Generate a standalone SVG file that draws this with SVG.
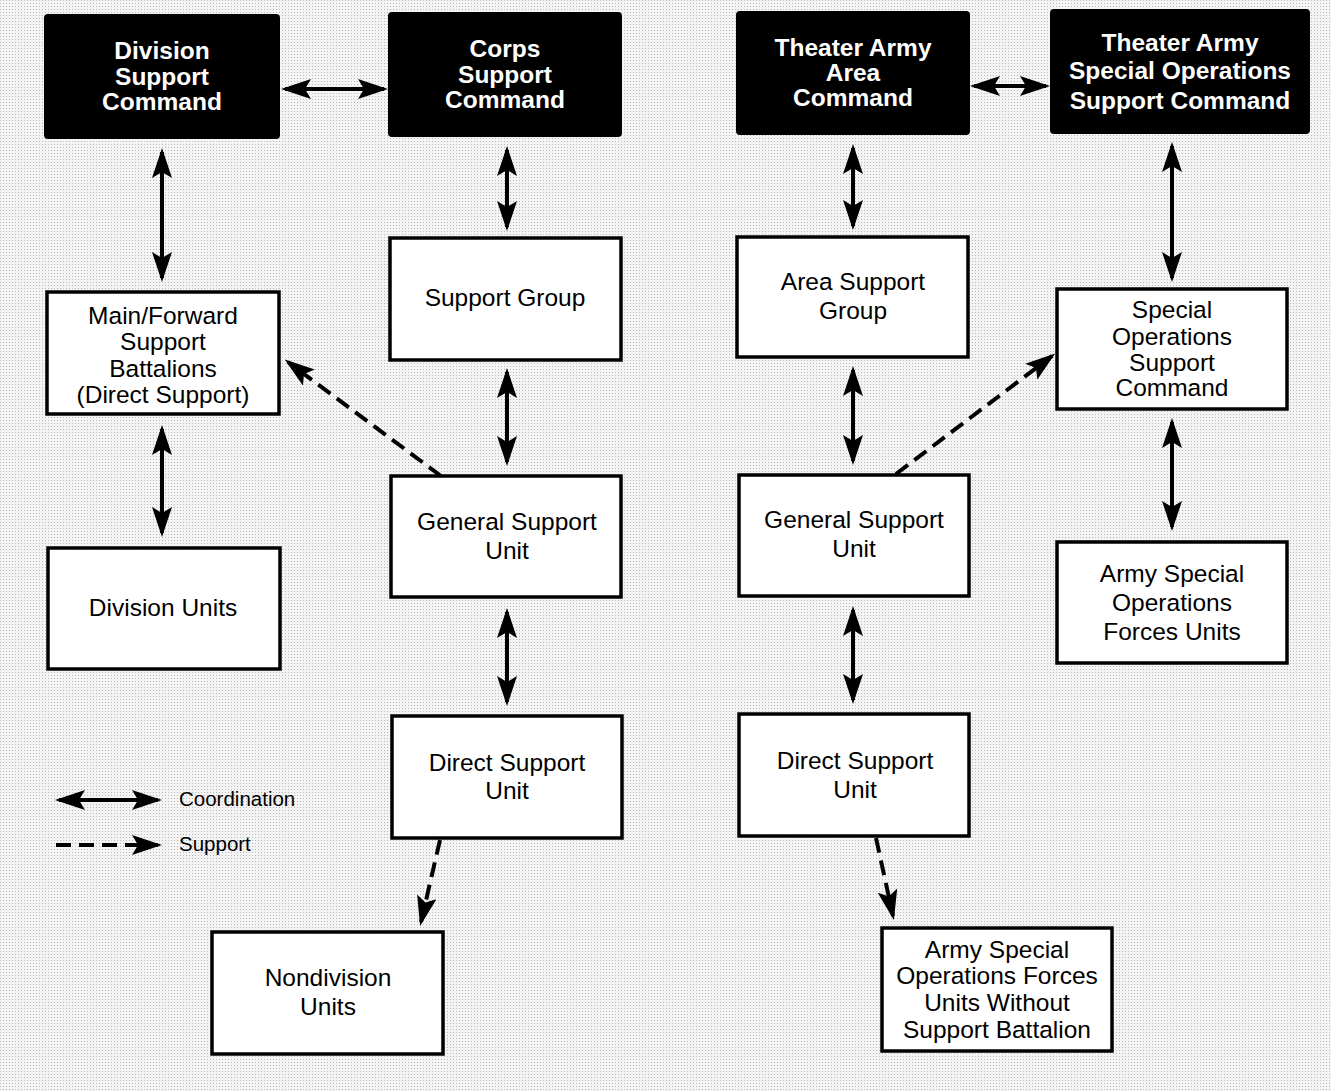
<svg xmlns="http://www.w3.org/2000/svg" width="1331" height="1091" viewBox="0 0 1331 1091">
<defs>
<pattern id="dots" width="3" height="3" patternUnits="userSpaceOnUse">
<rect width="3" height="3" fill="#f4f4f4"/>
<rect x="0" y="0" width="1" height="1" fill="#b8b8b8"/>
</pattern>
<marker id="ah" viewBox="0 0 30 20" refX="26" refY="10" markerWidth="30" markerHeight="20" markerUnits="userSpaceOnUse" orient="auto-start-reverse">
<path d="M0,0 L30,10 L0,20 L6,10 Z" fill="#000"/>
</marker>
</defs>
<style>
.bg{fill:url(#dots)}
.blk{fill:#000;stroke:#000;stroke-width:2}
.wht{fill:#fff;stroke:#000;stroke-width:3.5}
.bt{font-family:"Liberation Sans",Arial,sans-serif;font-weight:bold;font-size:24.5px;fill:#fff;text-anchor:middle}
.t{font-family:"Liberation Sans",Arial,sans-serif;font-size:24.5px;fill:#000;text-anchor:middle}
.lg{font-family:"Liberation Sans",Arial,sans-serif;font-size:20.5px;fill:#000}
.co{stroke:#000;stroke-width:4;fill:none;marker-start:url(#ah);marker-end:url(#ah)}
.su{stroke:#000;stroke-width:4;fill:none;stroke-dasharray:15 8;marker-end:url(#ah)}
</style>
<rect class="bg" x="0" y="0" width="1331" height="1091"/>

<g id="connectors">
<line class="co" x1="285" y1="89" x2="384" y2="89"/>
<line class="co" x1="162" y1="152" x2="162" y2="278"/>
<line class="co" x1="507" y1="150" x2="507" y2="227"/>
<line class="co" x1="162" y1="429" x2="162" y2="533"/>
<line class="co" x1="507" y1="372" x2="507" y2="462"/>
<line class="co" x1="507" y1="612" x2="507" y2="702"/>
<line class="co" x1="974" y1="86" x2="1046" y2="86"/>
<line class="co" x1="853" y1="148" x2="853" y2="226"/>
<line class="co" x1="853" y1="370" x2="853" y2="461"/>
<line class="co" x1="853" y1="610" x2="853" y2="700"/>
<line class="co" x1="1172" y1="146" x2="1172" y2="278"/>
<line class="co" x1="1172" y1="422" x2="1172" y2="527"/>
<line class="su" x1="441" y1="476" x2="288" y2="362"/>
<line class="su" x1="896" y1="474" x2="1052" y2="356"/>
<line class="su" x1="440" y1="840" x2="421" y2="922"/>
<line class="su" x1="876" y1="838" x2="893" y2="916"/>
</g>

<g id="legend">
<line class="co" x1="59" y1="800" x2="158" y2="800"/>
<text class="lg" x="179" y="806">Coordination</text>
<line class="su" x1="56" y1="845" x2="158" y2="845" stroke-dasharray="17 9"/>
<text class="lg" x="179" y="851">Support</text>
</g>

<g id="division-support-command">
<rect class="blk" x="45" y="15" width="234" height="123" rx="3"/>
<text class="bt" x="162" y="59">Division</text>
<text class="bt" x="162" y="85">Support</text>
<text class="bt" x="162" y="110">Command</text>
</g>
<g id="corps-support-command">
<rect class="blk" x="389" y="13" width="232" height="123" rx="3"/>
<text class="bt" x="505" y="57">Corps</text>
<text class="bt" x="505" y="83">Support</text>
<text class="bt" x="505" y="108">Command</text>
</g>
<g id="theater-army-area-command">
<rect class="blk" x="737" y="12" width="232" height="122" rx="3"/>
<text class="bt" x="853" y="56">Theater Army</text>
<text class="bt" x="853" y="81">Area</text>
<text class="bt" x="853" y="106">Command</text>
</g>
<g id="theater-army-sosc">
<rect class="blk" x="1051" y="10" width="258" height="123" rx="3"/>
<text class="bt" x="1180" y="51" font-size="25.5">Theater Army</text>
<text class="bt" x="1180" y="79" font-size="25.5">Special Operations</text>
<text class="bt" x="1180" y="109" font-size="25.5">Support Command</text>
</g>

<g id="main-forward-support-battalions">
<rect class="wht" x="47" y="292" width="232" height="122"/>
<text class="t" x="163" y="324">Main/Forward</text>
<text class="t" x="163" y="350">Support</text>
<text class="t" x="163" y="377">Battalions</text>
<text class="t" x="163" y="403">(Direct Support)</text>
</g>
<g id="division-units">
<rect class="wht" x="48" y="548" width="232" height="121"/>
<text class="t" x="163" y="616">Division Units</text>
</g>
<g id="support-group">
<rect class="wht" x="390" y="238" width="231" height="122"/>
<text class="t" x="505" y="306">Support Group</text>
</g>
<g id="general-support-unit-left">
<rect class="wht" x="391" y="476" width="230" height="121"/>
<text class="t" x="507" y="530">General Support</text>
<text class="t" x="507" y="559">Unit</text>
</g>
<g id="direct-support-unit-left">
<rect class="wht" x="392" y="716" width="230" height="122"/>
<text class="t" x="507" y="771">Direct Support</text>
<text class="t" x="507" y="799">Unit</text>
</g>
<g id="nondivision-units">
<rect class="wht" x="212" y="932" width="231" height="122"/>
<text class="t" x="328" y="986">Nondivision</text>
<text class="t" x="328" y="1015">Units</text>
</g>
<g id="area-support-group">
<rect class="wht" x="737" y="237" width="231" height="120"/>
<text class="t" x="853" y="290">Area Support</text>
<text class="t" x="853" y="319">Group</text>
</g>
<g id="general-support-unit-right">
<rect class="wht" x="739" y="475" width="230" height="121"/>
<text class="t" x="854" y="528">General Support</text>
<text class="t" x="854" y="557">Unit</text>
</g>
<g id="direct-support-unit-right">
<rect class="wht" x="739" y="714" width="230" height="122"/>
<text class="t" x="855" y="769">Direct Support</text>
<text class="t" x="855" y="798">Unit</text>
</g>
<g id="special-operations-support-command">
<rect class="wht" x="1057" y="289" width="230" height="120"/>
<text class="t" x="1172" y="318">Special</text>
<text class="t" x="1172" y="345">Operations</text>
<text class="t" x="1172" y="371">Support</text>
<text class="t" x="1172" y="396">Command</text>
</g>
<g id="army-sof-units">
<rect class="wht" x="1057" y="542" width="230" height="121"/>
<text class="t" x="1172" y="582">Army Special</text>
<text class="t" x="1172" y="611">Operations</text>
<text class="t" x="1172" y="640">Forces Units</text>
</g>
<g id="army-sof-units-without-support-battalion">
<rect class="wht" x="882" y="928" width="230" height="123"/>
<text class="t" x="997" y="958">Army Special</text>
<text class="t" x="997" y="984">Operations Forces</text>
<text class="t" x="997" y="1011">Units Without</text>
<text class="t" x="997" y="1038">Support Battalion</text>
</g>
</svg>
